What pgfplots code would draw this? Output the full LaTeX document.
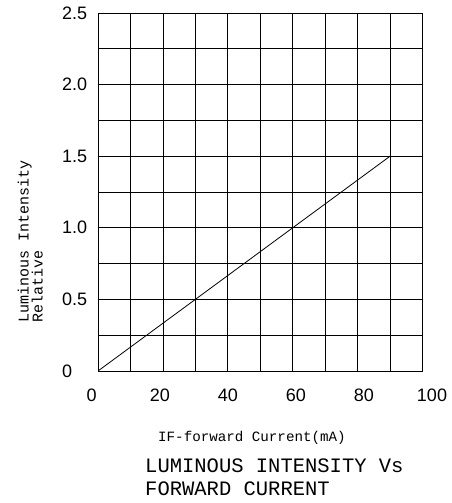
\documentclass[border=0pt]{standalone}
\usepackage{fontspec}
\setmainfont{Liberation Sans}
\newfontfamily\monofont{Liberation Mono}
\usepackage{pgfplots}
\pgfplotsset{compat=1.18}
\begin{document}
\begin{tikzpicture}[x=1pt,y=1pt]
\path[use as bounding box] (0,0) rectangle (451,503);
% main grid axis
\begin{axis}[
  at={(98pt,132pt)}, anchor=south west,
  scale only axis, width=324.5pt, height=358pt,
  xmin=0, xmax=100, ymin=0, ymax=2.5,
  xtick={0,10,...,100}, xticklabels={},
  ytick={0,0.25,...,2.5},
  yticklabels={0,,0.5,,1.0,,1.5,,2.0,,2.5},
  /pgf/number format/assume math mode=true,
  yticklabel style={anchor=west, inner sep=0pt, xshift=-36pt, font=\fontsize{18}{18}\selectfont},
  major tick length=0pt,
  grid=major,
  grid style={black, line width=0.8pt},
  axis line style={black, line width=0.9pt},
]
\addplot[black, line width=0.8pt] coordinates {(0,0) (90,1.5)};
\end{axis}
% x tick labels (drawn offset as in the reference)
\begin{axis}[
  at={(91.7pt,132pt)}, anchor=south west,
  scale only axis, width=340.3pt, height=358pt,
  xmin=0, xmax=100, ymin=0, ymax=2.5,
  xtick={0,20,...,100}, ytick=\empty,
  axis lines=none,
  /pgf/number format/assume math mode=true,
  xticklabel style={anchor=base, inner sep=0pt, yshift=-31pt, font=\fontsize{18}{18}\selectfont},
  major tick length=0pt,
  hide axis=false, axis line style={draw=none}, tick style={draw=none},
]
\end{axis}
\node[rotate=90, anchor=south west, align=left, inner sep=0pt,
      font=\monofont\fontsize{15}{14}\selectfont] at (43,180) {Luminous Intensity\\Relative};
\node[anchor=base west, inner sep=0pt, font=\monofont\fontsize{14.2}{14.2}\selectfont] at (158,61) {IF-forward Current(mA)};
\node[anchor=base west, inner sep=0pt, font=\monofont\fontsize{20.5}{20.5}\selectfont] at (145,30) {LUMINOUS INTENSITY Vs};
\node[anchor=base west, inner sep=0pt, font=\monofont\fontsize{20.5}{20.5}\selectfont] at (145,8) {FORWARD CURRENT};
\end{tikzpicture}
\end{document}
